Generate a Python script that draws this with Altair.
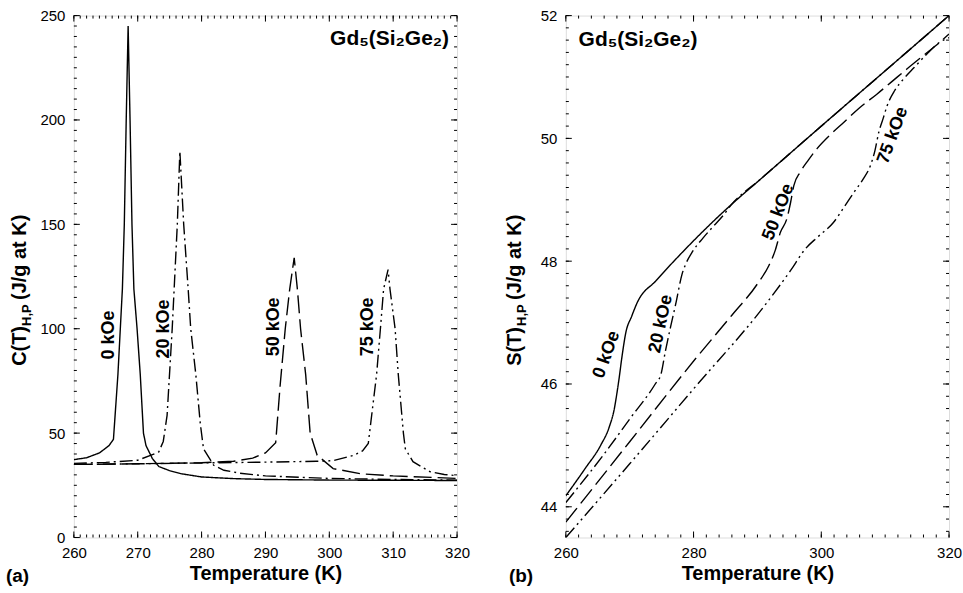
import altair as alt
import pandas as pd

FONT = "Liberation Sans"

# ---------------- Panel (a): C(T) ----------------
c_series = ["0 kOe", "20 kOe", "50 kOe", "75 kOe"]

c0_T = [260, 262, 264, 265.5, 266.2, 266.9, 267.6, 267.9, 268.2, 268.5, 268.8, 269.1, 269.4, 269.9,
        270.4, 270.9, 271.3, 272.3, 273.3, 275.0, 276.7, 280, 285, 290, 300, 310, 320]
c0_C = [37.3, 38.2, 40.5, 44.0, 47.0, 78, 119, 150, 200, 245, 200, 150, 119, 100,
        78, 50, 44, 37.8, 34.0, 32.0, 30.6, 29.0, 28.2, 27.8, 27.5, 27.4, 27.3]

c20_T = [260, 265, 270, 272, 273.3, 274.0, 274.6, 275.4, 276.2, 276.6, 277.2, 277.9, 278.3, 279.1,
         279.8, 280.3, 281.9, 283.5, 286, 290, 300, 310, 320]
c20_C = [35.5, 36.0, 37.0, 39.3, 41.0, 46.0, 58.5, 100, 150, 185, 150, 119, 100, 78,
         54.5, 42.5, 34.6, 32.2, 30.8, 29.5, 28.3, 27.8, 27.5]

c50_T = [260, 270, 280, 285, 288, 290, 291.6, 292.3, 293.1, 293.8, 294.5, 295.0, 295.5, 296.3,
         297.0, 298.1, 300.6, 305, 310, 320]
c50_C = [35.0, 35.3, 35.8, 36.5, 38.0, 40.5, 45.4, 72.8, 100, 119, 134, 119, 100, 78,
         50, 39.4, 33.0, 30.5, 29.5, 28.3]

c75_T = [260, 270, 280, 290, 298, 300.6, 303.8, 305.2, 306.1, 307.4, 308.0, 308.5, 309.2, 309.5,
         310.3, 310.8, 311.6, 311.9, 313.1, 315.8, 318, 320]
c75_C = [35.0, 35.3, 35.7, 36.1, 36.5, 36.8, 39.3, 41.5, 45.0, 78, 100, 119, 128.3, 119,
         100, 78, 50, 42.5, 36.3, 31.5, 30.2, 29.6]

c_label_T = [265.5, 274.1, 291.3, 306.0]
c_label_C = [97.0, 99.9, 100.9, 100.9]

# ---------------- Panel (b): S(T) ----------------
s0_T = [260, 263, 265.5, 266.8, 267.6, 268.0, 268.3, 268.8, 269.4, 270.3, 271.2, 274.1, 278.2,
        282.9, 286.0, 290.2, 300, 310, 320]
s0_S = [44.18, 44.62, 45.01, 45.3, 45.6, 45.85, 46.06, 46.45, 46.84, 47.1, 47.33, 47.68, 48.14,
        48.63, 48.93, 49.31, 50.2, 51.1, 52.0]

s20_T = [260, 266, 270, 274, 274.9, 275.6, 276.4, 277.2, 278.2, 278.8, 279.8, 281.5, 283.2, 284.6,
         286.0, 290.2, 300, 310, 320]
s20_S = [44.07, 44.86, 45.43, 46.0, 46.16, 46.54, 46.93, 47.3, 47.79, 47.96, 48.15, 48.38, 48.58, 48.74,
         48.93, 49.31, 50.2, 51.1, 52.0]

s50_T = [260, 270, 280.3, 286, 290, 291.8, 292.8, 293.6, 294.6, 295.2, 295.7, 296.7, 298, 299.3,
         301.5, 303.5, 306, 308.7, 311, 313.4, 316, 318.5, 320]
s50_S = [43.75, 45.06, 46.41, 47.12, 47.63, 47.93, 48.18, 48.47, 48.69, 48.96, 49.23, 49.45, 49.65, 49.83,
         50.07, 50.26, 50.5, 50.72, 50.92, 51.13, 51.35, 51.56, 51.70]

s75_T = [260, 270, 280, 291.3, 295.2, 297.5, 299.5, 301.9, 303.5, 305.1, 306.5, 307.7, 308.4, 309.0,
         309.7, 310.3, 311.5, 312.9, 314.5, 316.5, 318.6, 320]
s75_S = [43.5, 44.7, 45.92, 47.3, 47.85, 48.2, 48.4, 48.63, 48.87, 49.12, 49.33, 49.56, 49.8, 50.1,
         50.33, 50.53, 50.78, 50.97, 51.15, 51.37, 51.57, 51.64]

s_label_T = [266.4, 274.9, 293.3, 311.2]
s_label_S = [46.48, 46.98, 48.8, 50.05]
s_label_angle = [290, 282, 291, 290]

compound = "Gd\u2085(Si\u2082Ge\u2082)"

dash_patterns = [[1, 0], [13, 4, 2, 4], [18, 6], [13, 4, 2, 4, 2, 4]]

W, H = 384, 523


def long_df(Ts, Vs):
    rows = []
    for name, T, V in zip(c_series, Ts, Vs):
        for i, (t, v) in enumerate(zip(T, V)):
            rows.append({"series": name, "T": t, "v": v, "i": i})
    return pd.DataFrame(rows)


def tick_layers(xenc, yenc, x_major, x_minor, y_major, y_minor):
    layers = []
    for vals, L in ((x_major, 6), (x_minor, 3)):
        d = pd.DataFrame({"T": vals})
        for y0, y1 in ((H, H - L), (0, L)):
            layers.append(alt.Chart(d).mark_rule(color="black", strokeWidth=1).encode(
                x=xenc, y=alt.value(y0), y2=alt.value(y1)))
    for vals, L in ((y_major, 6), (y_minor, 3)):
        d = pd.DataFrame({"v": vals})
        for x0, x1 in ((0, L), (W, W - L)):
            layers.append(alt.Chart(d).mark_rule(color="black", strokeWidth=1).encode(
                y=yenc, x=alt.value(x0), x2=alt.value(x1)))
    return layers


def axis_title_layers(main, xpos, ybottom):
    one = pd.DataFrame({"a": [0]})
    base = dict(font=FONT, fontWeight="bold", angle=270, align="left",
                baseline="alphabetic", color="black")
    w_main = 20 * 2.0
    t1 = alt.Chart(one).mark_text(text=main, fontSize=20, **base).encode(
        x=alt.value(xpos), y=alt.value(ybottom))
    t2 = alt.Chart(one).mark_text(text="H,P", fontSize=13, dx=w_main, dy=5, **base).encode(
        x=alt.value(xpos), y=alt.value(ybottom))
    t3 = alt.Chart(one).mark_text(text="(J/g at K)", fontSize=20, dx=w_main + 26, **base).encode(
        x=alt.value(xpos), y=alt.value(ybottom))
    return [t1, t2, t3]


def panel(df, xdom, ydom, xvals, yvals, x_minor, y_minor, interp, labels_df, comp_df,
          comp_align, title_main, title_x, panel_tag, tag_x):
    xenc = alt.X("T:Q", scale=alt.Scale(domain=xdom, nice=False, zero=False), title="Temperature (K)",
                 axis=alt.Axis(values=xvals, ticks=False, domain=False, grid=False, labelFlush=False,
                               labelFont=FONT, labelFontSize=15, labelColor="black", labelPadding=8,
                               titleFont=FONT, titleFontSize=20, titleFontWeight="bold",
                               titleColor="black", titlePadding=3))
    yenc = alt.Y("v:Q", scale=alt.Scale(domain=ydom, nice=False, zero=False), title=None,
                 axis=alt.Axis(values=yvals, ticks=False, domain=False, grid=False,
                               labelFont=FONT, labelFontSize=15, labelColor="black", labelPadding=9))
    lines = alt.Chart(df).mark_line(color="black", strokeWidth=1.4, interpolate=interp, clip=True).encode(
        x=xenc, y=yenc,
        strokeDash=alt.StrokeDash("series:N", scale=alt.Scale(domain=c_series, range=dash_patterns),
                                  legend=None),
        detail="series:N",
        order="i:Q",
    )
    labels = alt.Chart(labels_df).mark_text(font=FONT, fontWeight="bold", fontSize=18, align="center",
                                            baseline="middle", color="black").encode(
        x=xenc, y=yenc,
        text="label:N",
        angle=alt.Angle("ang:Q", scale=None),
    )
    comp = alt.Chart(comp_df).mark_text(font=FONT, fontWeight="bold", fontSize=21, align=comp_align,
                                        baseline="alphabetic", color="black").encode(
        x=xenc, y=yenc,
        text="label:N",
    )
    tag = alt.Chart(pd.DataFrame({"a": [0]})).mark_text(
        text=panel_tag, font=FONT, fontWeight="bold", fontSize=19, align="left",
        baseline="alphabetic", color="black").encode(x=alt.value(tag_x), y=alt.value(H + 45))
    layers = [lines, labels, comp, tag] + tick_layers(xenc, yenc, xvals, x_minor, yvals, y_minor) \
        + axis_title_layers(title_main, title_x, 351)
    return alt.layer(*layers).properties(width=W, height=H)


c_df = long_df([c0_T, c20_T, c50_T, c75_T], [c0_C, c20_C, c50_C, c75_C])
s_df = long_df([s0_T, s20_T, s50_T, s75_T], [s0_S, s20_S, s50_S, s75_S])

c_labels = pd.DataFrame({"T": c_label_T, "v": c_label_C, "label": c_series, "ang": [270] * 4})
s_labels = pd.DataFrame({"T": s_label_T, "v": s_label_S, "label": c_series, "ang": s_label_angle})

c_comp = pd.DataFrame({"T": [318.75], "v": [236.0], "label": [compound]})
s_comp = pd.DataFrame({"T": [262.0], "v": [51.51], "label": [compound]})

left = panel(c_df, [260, 320], [0, 250], [260, 270, 280, 290, 300, 310, 320],
             [0, 50, 100, 150, 200, 250], list(range(260, 321, 1)), list(range(0, 251, 5)),
             "linear", c_labels, c_comp, "right", "C(T)", -48, "(a)", -68)
right = panel(s_df, [260, 320], [43.5, 52], [260, 280, 300, 320], [44, 46, 48, 50, 52],
              list(range(260, 321, 2)), [round(43.6 + 0.2 * k, 1) for k in range(43)],
              "monotone", s_labels, s_comp, "left", "S(T)", -45, "(b)", -57)

chart = alt.hconcat(left, right, spacing=33).properties(
    padding={"left": 5, "top": 7, "right": 0, "bottom": 0}
).configure_view(stroke="black", strokeWidth=1.5).configure(background="white")

chart.save("out.html", embed_options={"renderer": "svg", "actions": False})
